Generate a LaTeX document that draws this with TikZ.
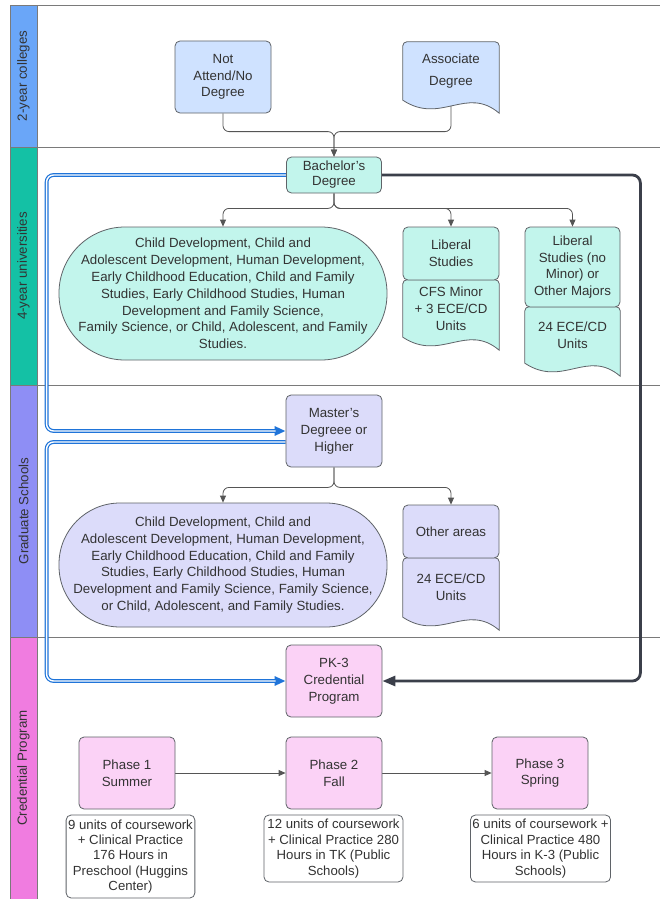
\documentclass[tikz,border=0pt]{standalone}
\usepackage{fontspec}
\setmainfont{Liberation Sans}
\usetikzlibrary{calc,arrows.meta}
\pgfdeclarelayer{bg}
\pgfdeclarelayer{docs}
\pgfdeclarelayer{conn}
\pgfsetlayers{bg,docs,conn,main}
\definecolor{lineGray}{HTML}{7A7A7A}
\definecolor{bord}{HTML}{5F6368}
\definecolor{txt}{HTML}{333333}
\definecolor{stBlue}{HTML}{6AA6F8}
\definecolor{stTeal}{HTML}{14C1A5}
\definecolor{stPurple}{HTML}{8E8EF5}
\definecolor{stPink}{HTML}{F07CE0}
\definecolor{fBlue}{HTML}{CFE2FF}
\definecolor{fTeal}{HTML}{C2F5EC}
\definecolor{fPurple}{HTML}{DCDCFA}
\definecolor{fPink}{HTML}{FBD2F6}
\definecolor{connC}{HTML}{555555}
\definecolor{blueL}{HTML}{1F74D9}
\definecolor{darkL}{HTML}{3B3F4A}
\newcommand\docpath[2]{%
  \draw[line width=0.8pt, draw=bord, fill=#2]
    (#1.south west) [rounded corners=4pt] -- (#1.north west) -- (#1.north east)
    [sharp corners] -- ($(#1.south east)+(0,13)$)
    .. controls ($(#1.south east)+(-33,-15)$) and ($(#1.south west)+(38,25)$) .. (#1.south west) -- cycle;}
\tikzset{
  txtbase/.style={text=txt, align=center, inner sep=2pt, font=\fontsize{13.3}{16.8}\selectfont},
  boxbase/.style={txtbase, draw=bord, line width=0.8pt, rounded corners=5pt},
  boxB/.style={boxbase, fill=fBlue},
  boxT/.style={boxbase, fill=fTeal},
  boxP/.style={boxbase, fill=fPurple},
  boxK/.style={boxbase, fill=fPink},
  boxW/.style={boxbase, fill=white, font=\fontsize{13.2}{15.4}\selectfont},
  docn/.style={txtbase},
  stadium/.style={txtbase, draw=bord, line width=0.8pt},
  conn/.style={draw=connC, line width=0.8pt, rounded corners=6pt, -{Triangle[length=7pt,width=6pt]}},
  lanelab/.style={rotate=90, text=txt, font=\fontsize{13.3}{15}\selectfont},
  lanefill/.style={draw=lineGray, line width=0.8pt}
}
\begin{document}
\begin{tikzpicture}[x=1pt,y=-1pt]
\useasboundingbox (0,0) rectangle (660,899);
% lanes
\begin{pgfonlayer}{bg}
  \fill[white] (0,0) rectangle (660,899);
  \filldraw[lanefill, fill=stBlue] (10,5) rectangle (37,147);
  \filldraw[lanefill, fill=stTeal] (10,147) rectangle (37,385);
  \filldraw[lanefill, fill=stPurple] (10,385) rectangle (37,637);
  \filldraw[lanefill, fill=stPink] (10,637) rectangle (37,899.5);
  \draw[lineGray, line width=0.8pt] (10,5) -- (660,5);
  \draw[lineGray, line width=0.8pt] (10,147) -- (660,147);
  \draw[lineGray, line width=0.8pt] (10,385) -- (660,385);
  \draw[lineGray, line width=0.8pt] (10,637) -- (660,637);
\end{pgfonlayer}
\node[lanelab] (l1) at (23.5,76) {2-year colleges};
\node[lanelab] (l2) at (23.5,266) {4-year universities};
\node[lanelab] (l3) at (23.5,511) {Graduate Schools};
\node[lanelab] (l4) at (23.5,768) {Credential Program};

% 2-year
\node[boxB, minimum width=96pt, minimum height=72pt] (na) at (223,77) {Not\\Attend/No\\Degree};
\node[docn, minimum width=96pt, minimum height=58pt] (assoc) at (451,71) {Associate\\[5pt]Degree};

% 4-year
\node[boxT, minimum width=95pt, minimum height=36pt, font=\fontsize{13.3}{15}\selectfont] (bach) at (334,175) {Bachelor's\\Degree};
\node[stadium, fill=fTeal, minimum width=328pt, minimum height=133pt, rounded corners=66pt] (st1) at (223,293.5)
  {Child Development, Child and\\Adolescent Development, Human Development,\\Early Childhood Education, Child and Family\\Studies, Early Childhood Studies, Human\\Development and Family Science,\\Family Science, or Child, Adolescent, and Family\\Studies.};
\node[boxT, minimum width=96pt, minimum height=53pt] (lib) at (451,253.5) {Liberal\\Studies};
\node[docn, minimum width=96pt, minimum height=57pt] (cfs) at (451,308.5) {CFS Minor\\+ 3 ECE/CD\\Units};
\node[boxT, minimum width=95pt, minimum height=80pt] (oth) at (572.5,267) {Liberal\\Studies (no\\Minor) or\\Other Majors};
\node[docn, minimum width=95pt, minimum height=56pt] (ece1) at (572.5,335) {24 ECE/CD\\Units};

% graduate
\node[boxP, minimum width=96pt, minimum height=72pt] (mas) at (334,431) {Master's\\Degreee or\\Higher};
\node[stadium, fill=fPurple, minimum width=328pt, minimum height=124pt, rounded corners=61pt] (st2) at (223,565)
  {Child Development, Child and\\Adolescent Development, Human Development,\\Early Childhood Education, Child and Family\\Studies, Early Childhood Studies, Human\\Development and Family Science, Family Science,\\or Child, Adolescent, and Family Studies.};
\node[boxP, minimum width=96pt, minimum height=53pt] (oa) at (451,531.5) {Other areas};
\node[docn, minimum width=96pt, minimum height=59pt] (ece2) at (451,587.5) {24 ECE/CD\\Units};

% credential
\node[boxK, minimum width=96pt, minimum height=72pt] (pk) at (334,681) {PK-3\\Credential\\Program};
\node[boxK, minimum width=96pt, minimum height=72pt] (p1) at (127,773) {Phase 1\\Summer};
\node[boxK, minimum width=96pt, minimum height=72pt] (p2) at (334,773) {Phase 2\\Fall};
\node[boxK, minimum width=96pt, minimum height=72pt] (p3) at (540,773) {Phase 3\\Spring};
\node[boxW, minimum width=127pt, minimum height=83pt] (b1) at (130.5,856.5) {9 units of coursework\\+ Clinical Practice\\176 Hours in\\Preschool (Huggins\\Center)};
\node[boxW, minimum width=139pt, minimum height=67pt] (b2) at (333.5,848.5) {12 units of coursework\\+ Clinical Practice 280\\Hours in TK (Public\\Schools)};
\node[boxW, minimum width=139pt, minimum height=67pt] (b3) at (540.5,848.5) {6 units of coursework +\\Clinical Practice 480\\Hours in K-3 (Public\\Schools)};

% document shapes
\begin{pgfonlayer}{docs}
  \docpath{assoc}{fBlue}
  \docpath{cfs}{fTeal}
  \docpath{ece1}{fTeal}
  \docpath{ece2}{fPurple}
\end{pgfonlayer}

% connectors
\begin{pgfonlayer}{conn}
  \draw[conn] (na.south) |- ($(bach.north)+(0,-25)$) -- (bach.north);
  \draw[conn] ($(assoc.south)+(0,6)$) |- ($(bach.north)+(0,-25)$) -- (bach.north);
  \draw[conn] (bach.south) -- ++(0,15) -| (st1.north);
  \draw[conn] (bach.south) -- ++(0,15) -| (lib.north);
  \draw[conn] (bach.south) -- ++(0,15) -| (oth.north);
  \draw[conn] (mas.south) -- ++(0,20) -| (st2.north);
  \draw[conn] (mas.south) -- ++(0,20) -| (oa.north);
  \draw[conn] (p1) -- (p2);
  \draw[conn] (p2) -- (p3);
  % blue double lines
  \draw[blueL, line width=3.8pt, rounded corners=7pt, -{Triangle[length=11pt,width=9pt]}]
    (bach.west) -| ($(mas.west)+(-239,0)$) -- (mas.west);
  \draw[white, line width=1.4pt, rounded corners=7pt, shorten >=10pt]
    (bach.west) -| ($(mas.west)+(-239,0)$) -- (mas.west);
  \draw[blueL, line width=3.8pt, rounded corners=7pt, -{Triangle[length=11pt,width=9pt]}]
    ($(mas.west)+(0,11)$) -| ($(pk.west)+(-239,0)$) -- (pk.west);
  \draw[white, line width=1.4pt, rounded corners=7pt, shorten >=10pt]
    ($(mas.west)+(0,11)$) -| ($(pk.west)+(-239,0)$) -- (pk.west);
  % dark line
  \draw[darkL, line width=2.8pt, rounded corners=8pt, -{Triangle[length=13pt,width=10pt]}]
    (bach.east) -| ($(pk.east)+(258,0)$) -- (pk.east);
\end{pgfonlayer}
\end{tikzpicture}
\end{document}
